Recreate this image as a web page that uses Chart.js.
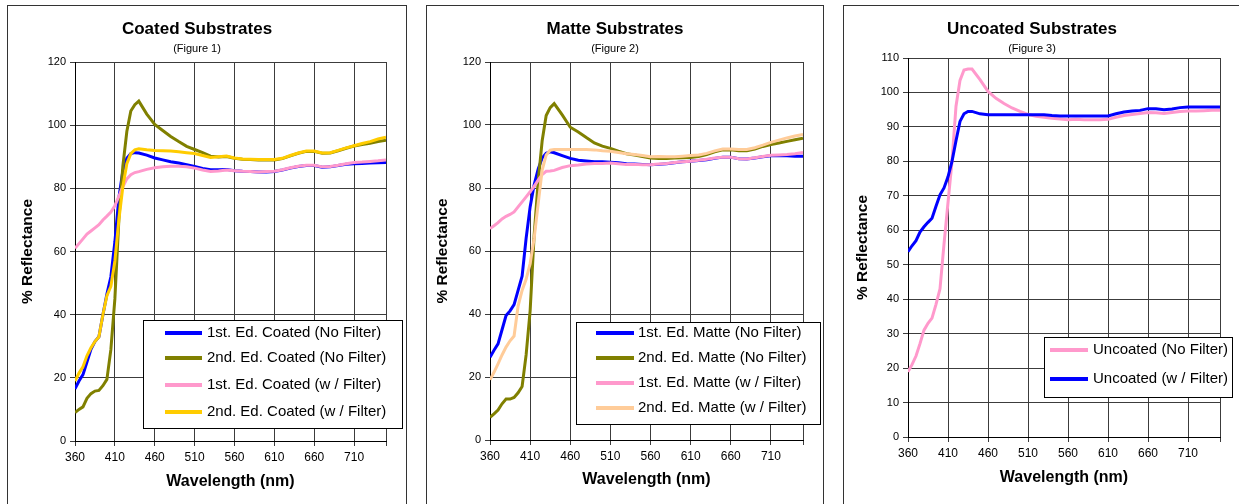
<!DOCTYPE html>
<html>
<head>
<meta charset="utf-8">
<script src="https://cdn.jsdelivr.net/npm/chart.js@4.4.1/dist/chart.umd.min.js"></script>
<style>
  body { margin: 0; width: 1239px; height: 504px; overflow: hidden; background: #fff; position: relative; }
  .panel { position: absolute; top: 5px; height: 520px; border: 1px solid #333; box-sizing: border-box; background: #fff; }
  .panel canvas { position: absolute; left: 0; top: 0; }
</style>
</head>
<body>

<div class="panel" style="left:7px;width:400px"><canvas id="coatedChart" width="398" height="498"></canvas></div>
<div class="panel" style="left:426px;width:398px"><canvas id="matteChart" width="396" height="498"></canvas></div>
<div class="panel" style="left:843px;width:400px"><canvas id="uncoatedChart" width="395" height="498"></canvas></div>

<script>
// wavelength (nm) for every reading
const wavelengths = [360, 365, 370, 375, 380, 385, 390, 395, 400, 405, 410, 415, 420, 425, 430, 435, 440,
    450, 460, 470, 480, 490, 500, 510, 520, 530, 540, 550, 560, 570, 580, 590, 600, 610, 620, 630, 640,
    650, 660, 670, 680, 690, 700, 710, 720, 730, 740, 750];

// x axis labels (one every 50 nm), the axis ends at 750
const xTickLabels = [360, 410, 460, 510, 560, 610, 660, 710];
const xMax = 750;

// Figure 1 - coated
const coatedNames = ['1st. Ed. Coated (No Filter)', '2nd. Ed. Coated (No Filter)', '1st. Ed. Coated (w / Filter)', '2nd. Ed. Coated (w / Filter)'];
const coated1stNoFilter = [16.5, 19, 21, 25, 29, 31.5, 33, 40, 46.5, 52, 63, 77, 85.5, 89.5, 91, 91.3, 91.2,
    90.5, 89.6, 89, 88.4, 88, 87.5, 86.9, 86.3, 85.9, 85.9, 86, 85.6, 85.4, 85.3, 85.2, 85.2, 85.3, 85.8, 86.4, 86.9,
    87.2, 87.2, 86.7, 86.8, 87.2, 87.6, 87.8, 87.9, 88, 88.1, 88.2];
const coated2ndNoFilter = [9, 10, 10.8, 13.5, 15, 15.8, 16, 17.5, 19.5, 29, 45, 70, 87, 98, 104.5, 106.5, 107.6,
    103.5, 100.2, 98.3, 96.4, 94.8, 93.3, 92.3, 91.3, 90.2, 89.9, 90.1, 89.5, 89.2, 89.1, 89, 89, 89, 89.4, 90.3, 91.1,
    91.7, 91.7, 91.1, 91.2, 91.9, 92.7, 93.4, 93.9, 94.3, 94.8, 95.2];
const coated1stFilter = [61, 62.5, 64, 65.5, 66.5, 67.5, 68.5, 70, 71.2, 72.5, 74.5, 77.5, 80.5, 83, 84.3, 85, 85.3,
    86, 86.5, 86.8, 87, 87, 86.8, 86.4, 85.8, 85.3, 85.5, 85.8, 85.6, 85.4, 85.3, 85.2, 85.3, 85.4, 85.9, 86.5, 87,
    87.3, 87.3, 86.8, 86.9, 87.3, 87.8, 88.2, 88.3, 88.5, 88.7, 89];
const coated2ndFilter = [19, 21.5, 23.5, 27, 29.5, 31.5, 33, 40, 46, 49, 57, 70, 80.5, 87.8, 91, 92.2, 92.5,
    92.2, 92, 91.9, 91.8, 91.6, 91.3, 91, 90.4, 89.8, 90, 90.2, 89.6, 89.3, 89.2, 89.1, 89.1, 89.1, 89.5, 90.4, 91.2,
    91.8, 91.8, 91.2, 91.3, 92, 92.8, 93.5, 94.2, 94.8, 95.6, 96.2];

// Figure 2 - matte
const matteNames = ['1st. Ed. Matte (No Filter)', '2nd. Ed. Matte (No Filter)', '1st. Ed. Matte (w / Filter)', '2nd. Ed. Matte (w / Filter)'];
const matte1stNoFilter = [26.3, 28.5, 30.5, 35, 39.5, 41, 43, 47.5, 52, 64, 74, 81, 86, 89.5, 91, 91.5, 91.2,
    90.3, 89.4, 88.8, 88.6, 88.3, 88.3, 88.2, 88, 87.7, 87.6, 87.5, 87.4, 87.5, 87.7, 88, 88.3, 88.5, 88.7, 89, 89.4,
    89.8, 89.8, 89.3, 89.2, 89.5, 89.9, 90.2, 90.2, 90.2, 90.1, 90.1];
const matte2ndNoFilter = [7.2, 8.3, 9.5, 11.5, 13, 13, 13.5, 15, 17, 27, 41, 65, 82, 95, 103, 105.5, 106.8,
    103.2, 99.3, 97.8, 96, 94.3, 93.3, 92.6, 91.7, 90.9, 90.5, 90, 89.5, 89.4, 89.4, 89.5, 89.6, 89.7, 90, 90.6, 91.5,
    92.1, 92.1, 91.8, 91.8, 92.4, 93.2, 93.8, 94.3, 94.8, 95.3, 95.8];
const matte1stFilter = [67.1, 68, 69, 70.2, 71, 71.6, 72.4, 74, 75.6, 77.2, 78.8, 80.5, 82.5, 84.3, 85.3, 85.4, 85.6,
    86.5, 87.1, 87.3, 87.6, 87.8, 87.8, 87.9, 87.7, 87.5, 87.5, 87.4, 87.4, 87.6, 87.8, 88.1, 88.3, 88.5, 88.8, 89.1, 89.5,
    89.8, 89.8, 89.3, 89.2, 89.6, 90, 90.4, 90.5, 90.6, 90.9, 91.3];
const matte2ndFilter = [19.1, 21.5, 24.2, 27, 29.5, 31.5, 33, 42.5, 47.5, 51, 56, 64, 75, 85.7, 90.5, 92, 92.2,
    92.2, 92.2, 92.2, 92.2, 92.1, 91.8, 91.7, 91.3, 90.9, 90.6, 90.3, 89.9, 90, 89.9, 89.9, 90.1, 90.3, 90.5, 91, 91.8,
    92.4, 92.4, 92.2, 92.2, 92.8, 93.6, 94.5, 95.2, 95.9, 96.5, 97];

// Figure 3 - uncoated
const uncoatedNames = ['Uncoated (No Filter)', 'Uncoated (w / Filter)'];
const uncoatedNoFilter = [18.9, 21, 23.5, 27.1, 31, 33, 34.5, 38.5, 43, 56, 68, 80, 96, 103.5, 106.5, 106.8, 106.8,
    103.7, 100.3, 98.3, 96.8, 95.5, 94.5, 93.6, 93.1, 92.8, 92.5, 92.3, 92.1, 92.2, 92.1, 92.1, 92.1, 92.2, 92.8, 93.3, 93.6,
    93.9, 94.2, 94.1, 93.9, 94.2, 94.5, 94.6, 94.6, 94.7, 94.8, 94.8];
const uncoatedFilter = [53.8, 55.5, 57, 59.5, 61, 62.3, 63.5, 67, 70.3, 72.3, 75.5, 80, 86, 91.6, 93.8, 94.5, 94.5,
    93.8, 93.5, 93.5, 93.5, 93.5, 93.5, 93.5, 93.5, 93.5, 93.3, 93.2, 93.2, 93.2, 93.2, 93.2, 93.2, 93.2, 93.8, 94.3, 94.6,
    94.8, 95.3, 95.3, 95, 95.2, 95.6, 95.8, 95.8, 95.8, 95.8, 95.8];

const BLUE = '#0000ff';
const OLIVE = '#808000';
const PINK = '#ff99cc';
const YELLOW = '#ffcc00';
const PEACH = '#ffcc99';

Chart.defaults.font.family = "'Liberation Sans', Arial, sans-serif";
Chart.defaults.color = '#000';

// legend box drawn inside the plot, like the excel chart
const boxLegend = {
    id: 'boxLegend',
    afterDraw(chart, args, opts) {
        const ctx = chart.ctx;
        ctx.save();
        ctx.fillStyle = '#fff';
        ctx.fillRect(opts.x, opts.y, opts.w, opts.h);
        ctx.strokeStyle = '#000';
        ctx.lineWidth = 1;
        ctx.strokeRect(opts.x + 0.5, opts.y + 0.5, opts.w, opts.h);
        ctx.font = "15px 'Liberation Sans', Arial, sans-serif";
        ctx.textBaseline = 'middle';
        chart.data.datasets.forEach((ds, i) => {
            const y = opts.rows[i];
            ctx.strokeStyle = ds.borderColor;
            ctx.lineWidth = 4;
            ctx.beginPath();
            ctx.moveTo(opts.lineX0, y);
            ctx.lineTo(opts.lineX1, y);
            ctx.stroke();
            ctx.fillStyle = '#000';
            ctx.fillText(ds.label, opts.textX, y);
        });
        ctx.restore();
    }
};

// turn a value list into {x, y} points
function toPoints(values) {
    return wavelengths.map((w, i) => ({ x: w, y: values[i] }));
}

function makeDatasets(names, seriesList, colors) {
    return seriesList.map((values, i) => ({
        label: names[i],
        data: toPoints(values),
        borderColor: colors[i],
        backgroundColor: colors[i],
        borderWidth: 3,
        pointRadius: 0,
        tension: 0,
        order: seriesList.length - i // later series on top
    }));
}

// shared look of the three panels
function panelOptions(p) {
    const gridLook = { color: '#3c3c3c', lineWidth: 1, tickLength: 5, tickColor: '#3c3c3c' };
    return {
        responsive: false,
        animation: false,
        events: [],
        layout: { padding: { top: 0, right: p.padRight, bottom: 0, left: 0 } },
        plugins: {
            legend: { display: false },
            tooltip: { enabled: false },
            title: { display: true, text: p.title, font: { size: 17, weight: 'bold' }, padding: { top: 12.8, bottom: 0 } },
            subtitle: { display: true, text: p.figure, color: '#000', font: { size: 11 }, padding: { top: 3.2, bottom: p.subBottom } },
            boxLegend: p.legend
        },
        scales: {
            x: {
                type: 'linear',
                min: 360,
                max: xMax,
                afterBuildTicks: axis => { axis.ticks = xTickLabels.concat([xMax]).map(v => ({ value: v })); },
                afterFit: scale => { scale.height = p.xHeight; },
                ticks: { font: { size: 12 }, padding: 4, maxRotation: 0, autoSkip: false,
                    callback: v => xTickLabels.includes(v) ? String(v) : '' },
                grid: gridLook,
                border: { color: '#000', width: 1 },
                title: { display: true, text: 'Wavelength (nm)', font: { size: 16, weight: 'bold' }, padding: { top: 0, bottom: p.xTitlePad } }
            },
            y: {
                min: 0,
                max: p.yMax,
                afterFit: scale => { scale.width = p.yWidth; },
                ticks: { stepSize: p.yStep, font: { size: 11 }, padding: 4 },
                grid: gridLook,
                border: { color: '#000', width: 1 },
                title: { display: true, text: '% Reflectance', font: { size: 15.5, weight: 'bold' }, padding: { top: p.yTitlePad, bottom: 0 } }
            }
        }
    };
}

function createCoatedChart() {
    new Chart(document.getElementById('coatedChart'), {
        type: 'line',
        data: { datasets: makeDatasets(coatedNames,
            [coated1stNoFilter, coated2ndNoFilter, coated1stFilter, coated2ndFilter], [BLUE, OLIVE, PINK, YELLOW]) },
        options: panelOptions({
            title: 'Coated Substrates', figure: '(Figure 1)', padRight: 20, subBottom: 6.4,
            xHeight: 63, xTitlePad: 12.7, yWidth: 67, yTitlePad: 10.7, yMax: 120, yStep: 20,
            legend: { x: 135, y: 314, w: 259, h: 108, lineX0: 157, lineX1: 194, textX: 199, rows: [327, 352, 379, 406] }
        }),
        plugins: [boxLegend]
    });
}

function createMatteChart() {
    new Chart(document.getElementById('matteChart'), {
        type: 'line',
        data: { datasets: makeDatasets(matteNames,
            [matte1stNoFilter, matte2ndNoFilter, matte1stFilter, matte2ndFilter], [BLUE, OLIVE, PINK, PEACH]) },
        options: panelOptions({
            title: 'Matte Substrates', figure: '(Figure 2)', padRight: 20, subBottom: 6.4,
            xHeight: 64, xTitlePad: 14.4, yWidth: 63, yTitlePad: 6.7, yMax: 120, yStep: 20,
            legend: { x: 149, y: 316, w: 244, h: 102, lineX0: 169, lineX1: 207, textX: 211, rows: [327, 352, 377, 402] }
        }),
        plugins: [boxLegend]
    });
}

function createUncoatedChart() {
    new Chart(document.getElementById('uncoatedChart'), {
        type: 'line',
        data: { datasets: makeDatasets(uncoatedNames, [uncoatedNoFilter, uncoatedFilter], [PINK, BLUE]) },
        options: panelOptions({
            title: 'Uncoated Substrates', figure: '(Figure 3)', padRight: 19, subBottom: 2.4,
            xHeight: 67, xTitlePad: 16.4, yWidth: 64, yTitlePad: 9.4, yMax: 110, yStep: 10,
            legend: { x: 200, y: 331, w: 188, h: 60, lineX0: 206, lineX1: 244, textX: 249, rows: [344, 373] }
        }),
        plugins: [boxLegend]
    });
}

createCoatedChart();
createMatteChart();
createUncoatedChart();
</script>
</body>
</html>
